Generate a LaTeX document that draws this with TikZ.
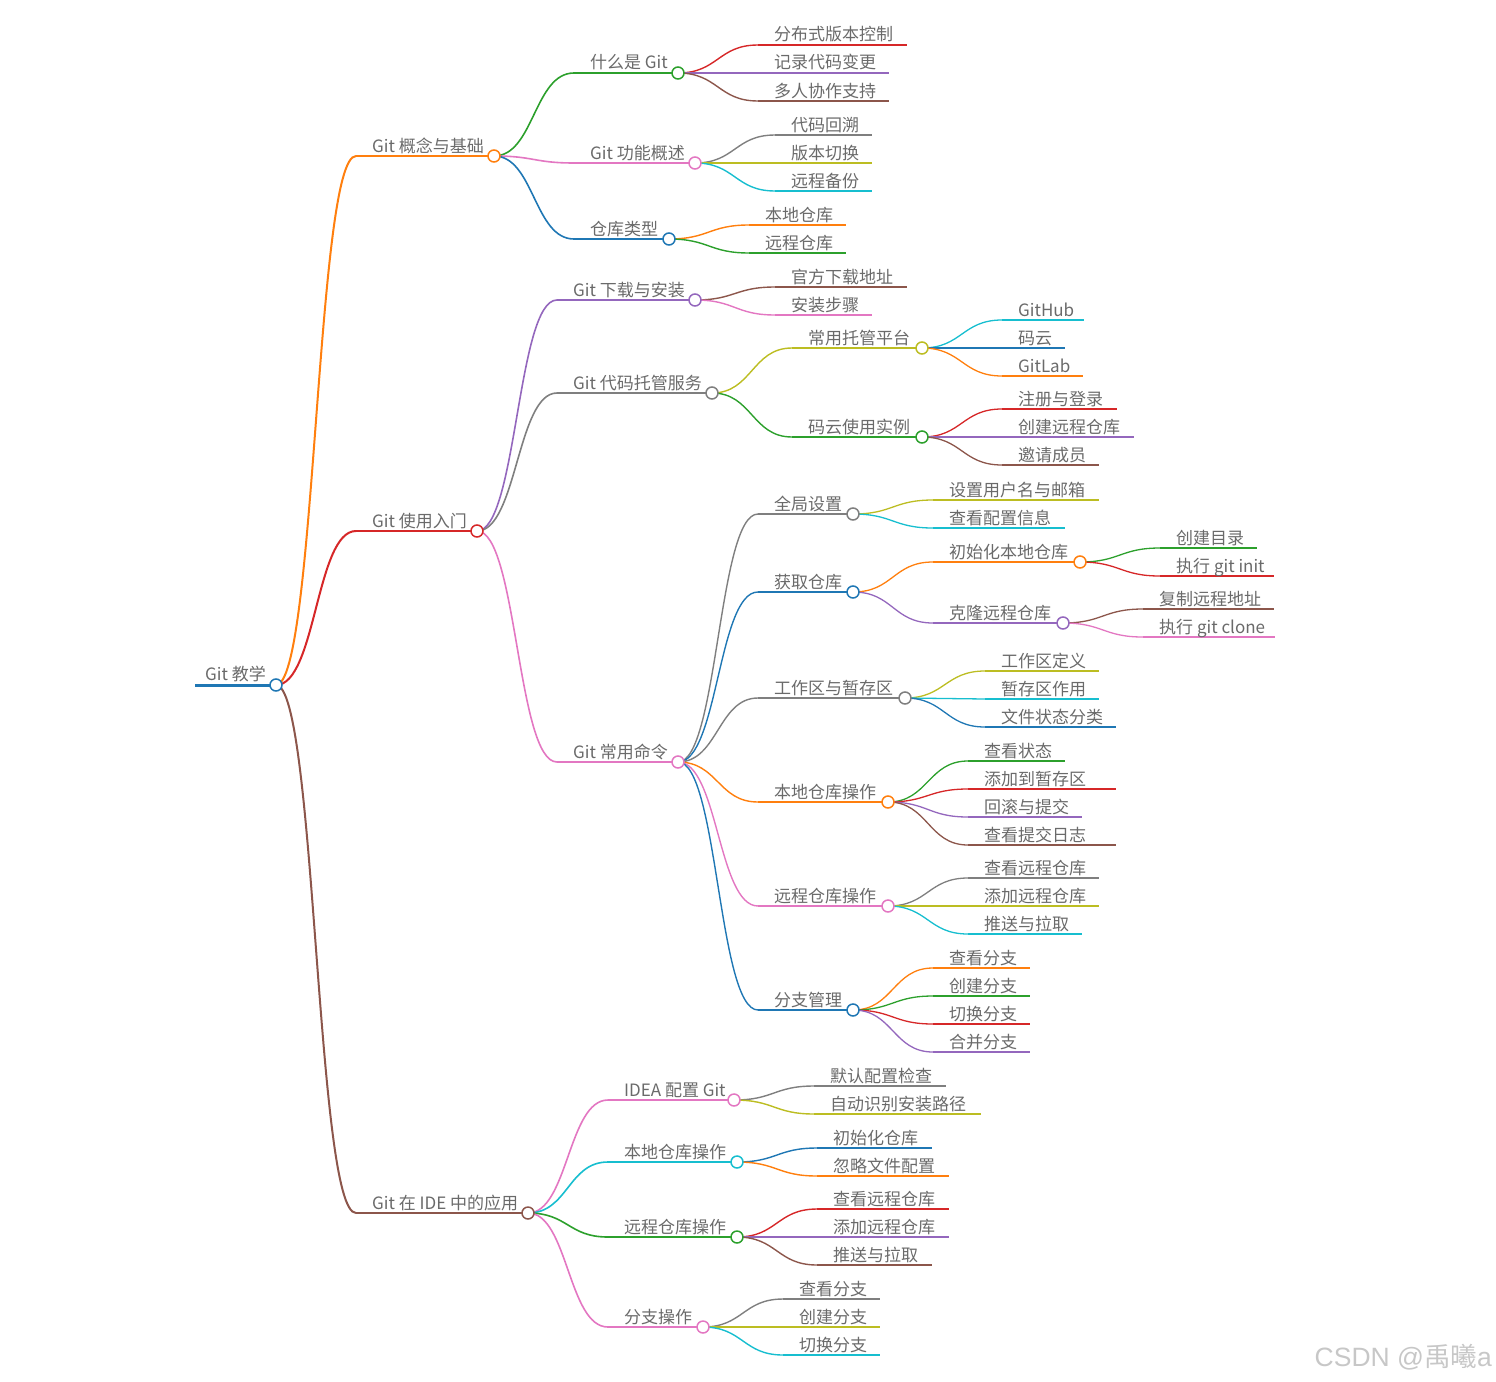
\documentclass[tikz,border=0pt]{standalone}
\usepackage{fontspec}
\setmainfont{Noto Sans CJK SC}
\newfontfamily\wmlatin{Liberation Sans}
\usetikzlibrary{calc}
\pgfdeclarelayer{bg}
\pgfsetlayers{bg,main}
\definecolor{tx}{HTML}{6A6A6A}
\definecolor{cB}{HTML}{1F77B4}
\definecolor{cO}{HTML}{FF7F0E}
\definecolor{cG}{HTML}{2CA02C}
\definecolor{cR}{HTML}{D62728}
\definecolor{cP}{HTML}{9467BD}
\definecolor{cBr}{HTML}{8C564B}
\definecolor{cPk}{HTML}{E377C2}
\definecolor{cGy}{HTML}{7F7F7F}
\definecolor{cOl}{HTML}{BCBD22}
\definecolor{cC}{HTML}{17BECF}
\tikzset{
  mmtext/.style={font=\fontsize{17}{20}\selectfont, text=tx, inner sep=0pt, anchor=base west},
  mmcirc/.style={circle, fill=white, line width=1.5pt, minimum size=12pt, inner sep=0pt},
}
% node with link: parent, id, xs, xe, y, color, lw, text
\newcommand\mmk[8]{%
  \coordinate (#2s) at (#3,#5);
  \coordinate (#2e) at (#4,#5);
  \begin{pgfonlayer}{bg}
    \path ($(#1e)!.5!(#2s)$) coordinate (mmm);
    \draw[#6, line width=#7pt] (#1e) .. controls (mmm |- #1e) and (mmm |- #2s) .. (#2s);
    \draw[#6, line width=#7pt] (#2s) -- (#2e);
  \end{pgfonlayer}
  \node[mmtext] (#2) at ($(#2s)+(16,-4)$) {#8};
}
\newcommand\mmc[2]{\node[mmcirc, draw=#2] (#1c) at (#1e) {};}
\begin{document}
\begin{tikzpicture}[x=1pt,y=-1pt]
\useasboundingbox (0,0) rectangle (1496,1381);
% root
\coordinate (Rs) at (195,685);
\coordinate (Re) at (276,685);
\begin{pgfonlayer}{bg}\draw[cB, line width=3pt] (Rs) -- (Re);\end{pgfonlayer}
\node[mmtext] (R) at ($(Rs)+(10,-4.5)$) {Git 教学};
% level 1
\mmk{R}{A}{356}{494}{156}{cO}{2}{Git 概念与基础}
\mmk{R}{B}{356}{477}{531}{cR}{2}{Git 使用入门}
\mmk{R}{C}{356}{528}{1213}{cBr}{2}{Git 在 IDE 中的应用}
% A
\mmk{A}{A1}{574}{678}{73}{cG}{1.6}{什么是 Git}
\mmk{A}{A2}{574}{695}{163}{cPk}{1.6}{Git 功能概述}
\mmk{A}{A3}{574}{669}{239}{cB}{1.6}{仓库类型}
\mmk{A1}{A11}{758}{907}{45}{cR}{1.4}{分布式版本控制}
\mmk{A1}{A12}{758}{889}{73}{cP}{1.4}{记录代码变更}
\mmk{A1}{A13}{758}{889}{101}{cBr}{1.4}{多人协作支持}
\mmk{A2}{A21}{775}{872}{135}{cGy}{1.4}{代码回溯}
\mmk{A2}{A22}{775}{872}{163}{cOl}{1.4}{版本切换}
\mmk{A2}{A23}{775}{872}{191}{cC}{1.4}{远程备份}
\mmk{A3}{A31}{749}{846}{225}{cO}{1.4}{本地仓库}
\mmk{A3}{A32}{749}{846}{253}{cG}{1.4}{远程仓库}
% B
\mmk{B}{B1}{557}{695}{300}{cP}{1.6}{Git 下载与安装}
\mmk{B}{B2}{557}{712}{393}{cGy}{1.6}{Git 代码托管服务}
\mmk{B}{B3}{557}{678}{762}{cPk}{1.6}{Git 常用命令}
\mmk{B1}{B11}{775}{907}{287}{cBr}{1.4}{官方下载地址}
\mmk{B1}{B12}{775}{872}{315}{cPk}{1.4}{安装步骤}
\mmk{B2}{B21}{792}{922}{348}{cOl}{1.4}{常用托管平台}
\mmk{B2}{B22}{792}{922}{437}{cG}{1.4}{码云使用实例}
\mmk{B21}{B211}{1002}{1084}{320}{cC}{1.3}{GitHub}
\mmk{B21}{B212}{1002}{1065}{348}{cB}{1.3}{码云}
\mmk{B21}{B213}{1002}{1083}{376}{cO}{1.3}{GitLab}
\mmk{B22}{B221}{1002}{1117}{409}{cR}{1.3}{注册与登录}
\mmk{B22}{B222}{1002}{1134}{437}{cP}{1.3}{创建远程仓库}
\mmk{B22}{B223}{1002}{1099}{465}{cBr}{1.3}{邀请成员}
\mmk{B3}{B31}{758}{853}{514}{cGy}{1.4}{全局设置}
\mmk{B3}{B32}{758}{853}{592}{cB}{1.4}{获取仓库}
\mmk{B3}{B33}{758}{905}{698}{cGy}{1.4}{工作区与暂存区}
\mmk{B3}{B34}{758}{888}{802}{cO}{1.4}{本地仓库操作}
\mmk{B3}{B35}{758}{888}{906}{cPk}{1.4}{远程仓库操作}
\mmk{B3}{B36}{758}{853}{1010}{cB}{1.4}{分支管理}
\mmk{B31}{B311}{933}{1099}{500}{cOl}{1.3}{设置用户名与邮箱}
\mmk{B31}{B312}{933}{1065}{528}{cC}{1.3}{查看配置信息}
\mmk{B32}{B321}{933}{1080}{562}{cO}{1.3}{初始化本地仓库}
\mmk{B32}{B322}{933}{1063}{623}{cP}{1.3}{克隆远程仓库}
\mmk{B321}{B3211}{1160}{1257}{548}{cG}{1.3}{创建目录}
\mmk{B321}{B3212}{1160}{1274}{576}{cR}{1.3}{执行 git init}
\mmk{B322}{B3221}{1143}{1274}{609}{cBr}{1.3}{复制远程地址}
\mmk{B322}{B3222}{1143}{1275}{637}{cPk}{1.3}{执行 git clone}
\mmk{B33}{B331}{985}{1099}{671}{cOl}{1.3}{工作区定义}
\mmk{B33}{B332}{985}{1099}{699}{cC}{1.3}{暂存区作用}
\mmk{B33}{B333}{985}{1116}{727}{cB}{1.3}{文件状态分类}
\mmk{B34}{B341}{968}{1065}{761}{cG}{1.3}{查看状态}
\mmk{B34}{B342}{968}{1116}{789}{cR}{1.3}{添加到暂存区}
\mmk{B34}{B343}{968}{1082}{817}{cP}{1.3}{回滚与提交}
\mmk{B34}{B344}{968}{1116}{845}{cBr}{1.3}{查看提交日志}
\mmk{B35}{B351}{968}{1099}{878}{cGy}{1.3}{查看远程仓库}
\mmk{B35}{B352}{968}{1099}{906}{cOl}{1.3}{添加远程仓库}
\mmk{B35}{B353}{968}{1082}{934}{cC}{1.3}{推送与拉取}
\mmk{B36}{B361}{933}{1030}{968}{cO}{1.3}{查看分支}
\mmk{B36}{B362}{933}{1030}{996}{cG}{1.3}{创建分支}
\mmk{B36}{B363}{933}{1030}{1024}{cR}{1.3}{切换分支}
\mmk{B36}{B364}{933}{1030}{1052}{cP}{1.3}{合并分支}
% C
\mmk{C}{C1}{608}{734}{1100}{cPk}{1.6}{IDEA 配置 Git}
\mmk{C}{C2}{608}{737}{1162}{cC}{1.6}{本地仓库操作}
\mmk{C}{C3}{608}{737}{1237}{cG}{1.6}{远程仓库操作}
\mmk{C}{C4}{608}{703}{1327}{cPk}{1.6}{分支操作}
\mmk{C1}{C11}{814}{946}{1086}{cGy}{1.4}{默认配置检查}
\mmk{C1}{C12}{814}{981}{1114}{cOl}{1.4}{自动识别安装路径}
\mmk{C2}{C21}{817}{932}{1148}{cB}{1.4}{初始化仓库}
\mmk{C2}{C22}{817}{949}{1176}{cO}{1.4}{忽略文件配置}
\mmk{C3}{C31}{817}{949}{1209}{cR}{1.4}{查看远程仓库}
\mmk{C3}{C32}{817}{949}{1237}{cP}{1.4}{添加远程仓库}
\mmk{C3}{C33}{817}{932}{1265}{cBr}{1.4}{推送与拉取}
\mmk{C4}{C41}{783}{880}{1299}{cGy}{1.4}{查看分支}
\mmk{C4}{C42}{783}{880}{1327}{cOl}{1.4}{创建分支}
\mmk{C4}{C43}{783}{880}{1355}{cC}{1.4}{切换分支}
% circles
\mmc{R}{cB}
\mmc{A}{cO}\mmc{B}{cR}\mmc{C}{cBr}
\mmc{A1}{cG}\mmc{A2}{cPk}\mmc{A3}{cB}
\mmc{B1}{cP}\mmc{B2}{cGy}\mmc{B3}{cPk}
\mmc{B21}{cOl}\mmc{B22}{cG}
\mmc{B31}{cGy}\mmc{B32}{cB}\mmc{B33}{cGy}\mmc{B34}{cO}\mmc{B35}{cPk}\mmc{B36}{cB}
\mmc{B321}{cO}\mmc{B322}{cP}
\mmc{C1}{cPk}\mmc{C2}{cC}\mmc{C3}{cG}\mmc{C4}{cPk}
% watermark
\node[font=\fontsize{26.5}{30}\selectfont, text=black!22, inner sep=0pt, anchor=base east] (wm) at (1492,1366) {{\wmlatin CSDN @}禹曦{\wmlatin a}};
\end{tikzpicture}
\end{document}
